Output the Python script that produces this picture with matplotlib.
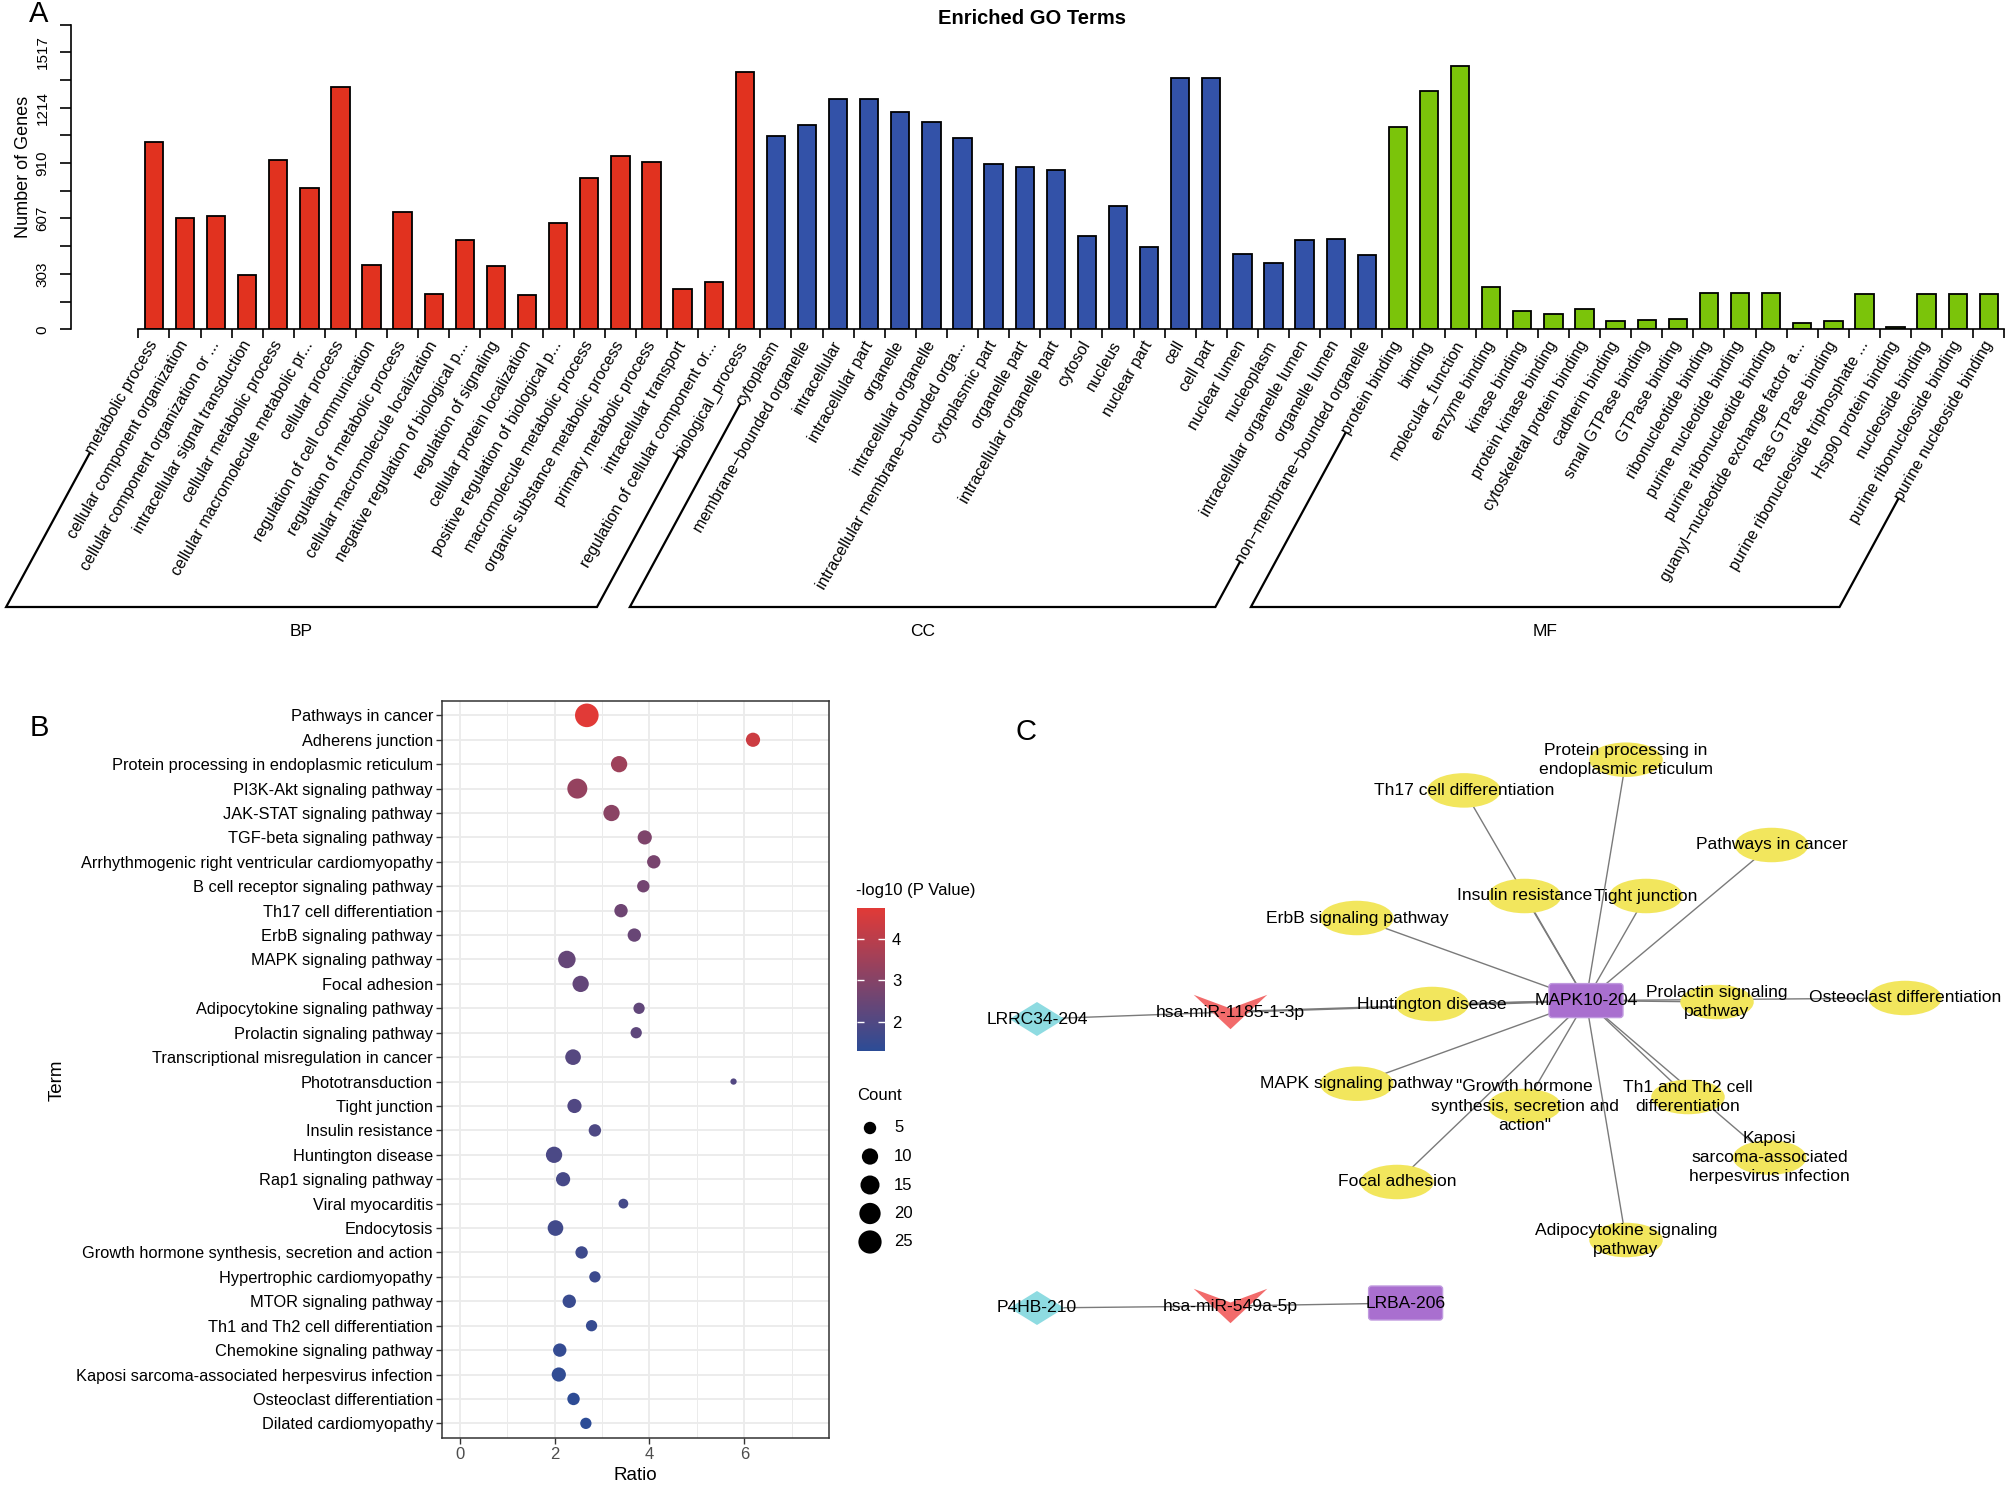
import numpy as np
import matplotlib
matplotlib.use("Agg")
from matplotlib import pyplot as plt
from matplotlib.colors import LinearSegmentedColormap
from matplotlib.patches import Ellipse, Polygon, FancyBboxPatch

plt.rcParams['font.family'] = ['Liberation Sans', 'DejaVu Sans']

# ---------- A: enriched GO terms (number of genes) ----------
bp_terms = ["metabolic process", "cellular component organization",
            "cellular component organization or ...", "intracellular signal transduction",
            "cellular metabolic process", "cellular macromolecule metabolic pr...",
            "cellular process", "regulation of cell communication",
            "regulation of metabolic process", "cellular macromolecule localization",
            "negative regulation of biological p...", "regulation of signaling",
            "cellular protein localization", "positive regulation of biological p...",
            "macromolecule metabolic process", "organic substance metabolic process",
            "primary metabolic process", "intracellular transport",
            "regulation of cellular component or...", "biological_process"]
bp_counts = [1023, 612, 621, 296, 926, 775, 1325, 351, 643, 192,
             490, 345, 190, 581, 826, 950, 917, 219, 258, 1411]

cc_terms = ["cytoplasm", "membrane\u2212bounded organelle", "intracellular",
            "intracellular part", "organelle", "intracellular organelle",
            "intracellular membrane\u2212bounded orga...", "cytoplasmic part",
            "organelle part", "intracellular organelle part", "cytosol", "nucleus",
            "nuclear part", "cell", "cell part", "nuclear lumen", "nucleoplasm",
            "intracellular organelle lumen", "organelle lumen",
            "non\u2212membrane\u2212bounded organelle"]
cc_counts = [1060, 1120, 1263, 1259, 1190, 1135, 1049, 906, 888, 870,
             511, 676, 453, 1378, 1374, 413, 364, 488, 495, 407]

mf_terms = ["protein binding", "binding", "molecular_function", "enzyme binding",
            "kinase binding", "protein kinase binding", "cytoskeletal protein binding",
            "cadherin binding", "small GTPase binding", "GTPase binding",
            "ribonucleotide binding", "purine nucleotide binding",
            "purine ribonucleotide binding", "guanyl\u2212nucleotide exchange factor a...",
            "Ras GTPase binding", "purine ribonucleoside triphosphate ...",
            "Hsp90 protein binding", "nucleoside binding",
            "purine ribonucleoside binding", "purine nucleoside binding"]
mf_counts = [1109, 1306, 1442, 229, 99, 84, 113, 48, 51, 55,
             199, 199, 199, 35, 48, 192, 13, 192, 192, 192]

# ---------- B: KEGG dot plot ----------
kegg_terms = ["Pathways in cancer", "Adherens junction",
              "Protein processing in endoplasmic reticulum", "PI3K-Akt signaling pathway",
              "JAK-STAT signaling pathway", "TGF-beta signaling pathway",
              "Arrhythmogenic right ventricular cardiomyopathy",
              "B cell receptor signaling pathway", "Th17 cell differentiation",
              "ErbB signaling pathway", "MAPK signaling pathway", "Focal adhesion",
              "Adipocytokine signaling pathway", "Prolactin signaling pathway",
              "Transcriptional misregulation in cancer", "Phototransduction",
              "Tight junction", "Insulin resistance", "Huntington disease",
              "Rap1 signaling pathway", "Viral myocarditis", "Endocytosis",
              "Growth hormone synthesis, secretion and action",
              "Hypertrophic cardiomyopathy", "MTOR signaling pathway",
              "Th1 and Th2 cell differentiation", "Chemokine signaling pathway",
              "Kaposi sarcoma-associated herpesvirus infection",
              "Osteoclast differentiation", "Dilated cardiomyopathy"]
kegg_ratio = [2.68, 6.18, 3.36, 2.48, 3.20, 3.90, 4.09, 3.87, 3.40, 3.68,
              2.26, 2.55, 3.78, 3.72, 2.39, 5.77, 2.42, 2.85, 1.99, 2.18,
              3.45, 2.02, 2.57, 2.85, 2.31, 2.78, 2.11, 2.09, 2.40, 2.66]
kegg_logp = [4.74, 4.35, 3.45, 3.30, 3.10, 2.85, 2.75, 2.65, 2.55, 2.45,
             2.40, 2.35, 2.30, 2.25, 2.10, 2.05, 2.00, 1.95, 1.90, 1.82,
             1.78, 1.70, 1.65, 1.60, 1.55, 1.50, 1.45, 1.40, 1.35, 1.30]
kegg_count = [26, 7, 10, 17, 10, 7, 6, 5, 6, 6, 12, 10, 4, 4, 9,
              2, 7, 5, 10, 7, 3, 9, 5, 4, 6, 4, 6, 7, 5, 4]
legend_counts = [5, 10, 15, 20, 25]

# ---------- C: ceRNA network (layout from the figure) ----------
node_names = ["MAPK10-204", "LRRC34-204", "hsa-miR-1185-1-3p", "P4HB-210",
              "hsa-miR-549a-5p", "LRBA-206",
              "Protein processing in\nendoplasmic reticulum", "Th17 cell differentiation",
              "Pathways in cancer", "Insulin resistance", "Tight junction",
              "ErbB signaling pathway", "Huntington disease",
              "Prolactin signaling\npathway", "Osteoclast differentiation",
              "MAPK signaling pathway",
              "\"Growth hormone\nsynthesis, secretion and\naction\"",
              "Th1 and Th2 cell\ndifferentiation",
              "Kaposi\nsarcoma-associated\nherpesvirus infection",
              "Focal adhesion", "Adipocytokine signaling\npathway"]
node_kind = ["mrna", "lnc", "mirna", "lnc", "mirna", "mrna"] + ["path"] * 15
node_x = [1586, 1037, 1230.5, 1037, 1230.5, 1405.6, 1626, 1464, 1771.6, 1524.5,
          1646, 1356.8, 1432, 1717, 1905, 1356.8, 1524.5, 1688, 1769.6, 1397, 1626]
node_y = [1000.6, 1019, 1012, 1308, 1306, 1303, 759.7, 790.4, 845, 896,
          896, 918, 1004, 1002, 998, 1083.7, 1106, 1097, 1157.6, 1182, 1240]
edges = [(1, 2), (2, 0), (3, 4), (4, 5)] + [(0, k) for k in range(6, 21)]

W, H, DPI = 2007, 1488, 100
fig = plt.figure(figsize=(W / DPI, H / DPI), dpi=DPI)


def box(x0, y0, x1, y1):
    # pixel box (y measured from top) -> figure fraction rect
    return [x0 / W, 1 - y1 / H, (x1 - x0) / W, (y1 - y0) / H]


# ---- panel A
go_terms = bp_terms + cc_terms + mf_terms
go_counts = bp_counts + cc_counts + mf_counts
go_colors = ['#E1321F'] * len(bp_terms) + ['#3352A8'] * len(cc_terms) + ['#7BC40A'] * len(mf_terms)

ax = fig.add_axes(box(70.5, 24.3, 2004.4, 329.3))
pos = np.arange(len(go_terms)) + 0.5
ax.bar(pos, go_counts, width=0.59, color=go_colors, edgecolor='black', linewidth=1.3)
ax.set_xlim(-2.18, len(go_terms))
ystep = 1517 / 10
ax.set_ylim(0, 1670)
for s in ['top', 'right']:
    ax.spines[s].set_visible(False)
for s in ['bottom', 'left']:
    ax.spines[s].set_linewidth(1.2)
ax.spines['bottom'].set_bounds(0, len(go_terms))
ax.spines['left'].set_bounds(0, 11 * ystep)
yt = np.arange(12) * ystep
ax.set_yticks(yt)
ax.set_yticklabels([f'{v:.0f}' if k % 2 == 0 else '' for k, v in enumerate(yt)],
                   rotation=90, va='center', fontsize=11)
ax.set_xticks(np.arange(len(go_terms) + 1))
ax.set_xticklabels([])
ax.tick_params(axis='y', length=8, width=1.2, pad=7)
ax.tick_params(axis='x', length=6.5, width=1.2)
ax.set_ylabel('Number of Genes', fontsize=13, va='center')
ax.yaxis.set_label_coords((23 - 70.5) / 1933.9, 0.532)

lab_y = -(342 - 329.3) / 305
texts = []
for p, t in zip(pos, go_terms):
    texts.append(ax.text(p, lab_y, t, rotation=60, rotation_mode='anchor',
                         ha='right', va='center', fontsize=11.5,
                         transform=ax.get_xaxis_transform()))

# overlay in pixel units for titles, panel letters, brackets and legends
ov = fig.add_axes([0, 0, 1, 1], zorder=10)
ov.set_xlim(0, W)
ov.set_ylim(H, 0)
ov.axis('off')

fig.canvas.draw()
rend = fig.canvas.get_renderer()


def label_foot(t):
    bb = t.get_window_extent(rend)
    h = np.sqrt(3) * bb.width - bb.height
    return bb.x0 + 0.433 * h, H - (bb.y0 + 0.25 * h)


slope = np.tan(np.radians(61.5))
y_bot = 607
n_bp, n_cc = len(bp_terms), len(cc_terms)
groups = [(0, n_bp - 1), (n_bp, n_bp + n_cc - 1), (n_bp + n_cc, len(go_terms) - 1)]
for (i0, i1), name in zip(groups, ['BP', 'CC', 'MF']):
    x0, y0 = label_foot(texts[i0])
    x1, y1 = label_foot(texts[i1])
    xb0 = x0 - (y_bot - y0) / slope
    xb1 = x1 - (y_bot - y1) / slope
    ov.plot([x0, xb0, xb1, x1], [y0, y_bot, y_bot, y1], color='black', lw=1.6,
            solid_joinstyle='miter')
    ov.text((xb0 + xb1) / 2, 631, name, ha='center', va='center', fontsize=12.5)

ov.text(1032, 19, 'Enriched GO Terms', fontweight='bold', fontsize=14.5,
        ha='center', va='center')
ov.text(39, 14, 'A', fontsize=21, ha='center', va='center')
ov.text(39, 728, 'B', fontsize=21, ha='center', va='center')
ov.text(1026, 732, 'C', fontsize=21, ha='center', va='center')

# ---- panel B
axb = fig.add_axes(box(442, 700.7, 828.5, 1438))
yb = np.arange(len(kegg_terms))
cmap = LinearSegmentedColormap.from_list('pv', ['#2C4C96', '#E13A37'])
cmin, cmax = min(kegg_count), max(kegg_count)


def dot_size(c):
    d = 6.3 + 17.3 * np.sqrt((np.asarray(c, float) - cmin) / (cmax - cmin))
    return (d * 72 / DPI) ** 2


sc = axb.scatter(kegg_ratio, yb, s=dot_size(kegg_count), c=kegg_logp, cmap=cmap,
                 vmin=1.30, vmax=4.74, edgecolors='none', zorder=3)
axb.set_xlim(-0.37, 7.77)
axb.set_ylim(len(kegg_terms) - 0.4, -0.6)
axb.set_xticks([0, 2, 4, 6])
axb.set_xticks([1, 3, 5, 7], minor=True)
axb.set_yticks(yb)
axb.set_yticklabels(kegg_terms, fontsize=11.8)
axb.grid(True, which='major', color='#EBEBEB', lw=1.3)
axb.grid(True, which='minor', axis='x', color='#EBEBEB', lw=0.7)
axb.set_axisbelow(True)
for s in axb.spines.values():
    s.set_color('#333333')
    s.set_linewidth(1.1)
axb.tick_params(which='major', length=4, width=1.0, color='#333333', pad=2.5)
axb.tick_params(which='minor', length=0)
axb.tick_params(axis='x', labelsize=12, labelcolor='#4D4D4D')
axb.set_xlabel('Ratio', fontsize=13.5, va='center')
axb.xaxis.set_label_coords(0.5, -(1476 - 1438) / 737.3)
axb.set_ylabel('Term', fontsize=13.5, va='center')
axb.yaxis.set_label_coords((57 - 442) / 386.5, 0.5 - (1080 - 1069.4) / 737.3)

cax = fig.add_axes(box(856.7, 908, 885, 1051))
cb = fig.colorbar(sc, cax=cax, ticks=[2, 3, 4])
cb.outline.set_visible(False)
cax.tick_params(direction='in', length=5, width=1, color='white', left=True, right=True,
                labelsize=12, pad=5)
ov.text(855.6, 890, '-log10 (P Value)', fontsize=12, ha='left', va='center')

ov.text(856.7, 1096, 'Count', fontsize=12, ha='left', va='center')
for k, c in enumerate(legend_counts):
    yy = 1128 + 28.5 * k
    ov.scatter([870], [yy], s=dot_size(c), color='black', edgecolors='none')
    ov.text(894, yy, str(c), fontsize=12, ha='left', va='center')

# ---- panel C
axc = fig.add_axes(box(960, 700, 2007, 1400))
axc.set_xlim(960, 2007)
axc.set_ylim(1400, 700)
axc.axis('off')
for a, b in edges:
    lw = 1.6 if (a, b) == (2, 0) else 1.0
    axc.plot([node_x[a], node_x[b]], [node_y[a], node_y[b]], color='#7A7A7A', lw=lw, zorder=1)
for name, kind, x, y in zip(node_names, node_kind, node_x, node_y):
    if kind == 'path':
        axc.add_patch(Ellipse((x, y), 73.5, 34.5, fc='#F2E65D', ec='none', zorder=2))
    elif kind == 'mrna':
        axc.add_patch(FancyBboxPatch((x - 34, y - 14), 68, 28, boxstyle='round,pad=3',
                                     fc='#A96FCF', ec='#C09ADF', lw=1, zorder=2))
    elif kind == 'lnc':
        axc.add_patch(Polygon([(x - 27.5, y), (x, y - 17), (x + 27.5, y), (x, y + 17)],
                              fc='#8EDBE1', ec='none', zorder=2))
    else:
        axc.add_patch(Polygon([(x - 36.8, y - 17.2), (x, y - 3.5), (x + 36.8, y - 17.2),
                               (x, y + 17.2)], fc='#F26B6B', ec='none', zorder=2))
    axc.text(x, y, name, ha='center', va='center', fontsize=12.6, linespacing=1.35, zorder=4)

fig.savefig('out.png', dpi=DPI)
